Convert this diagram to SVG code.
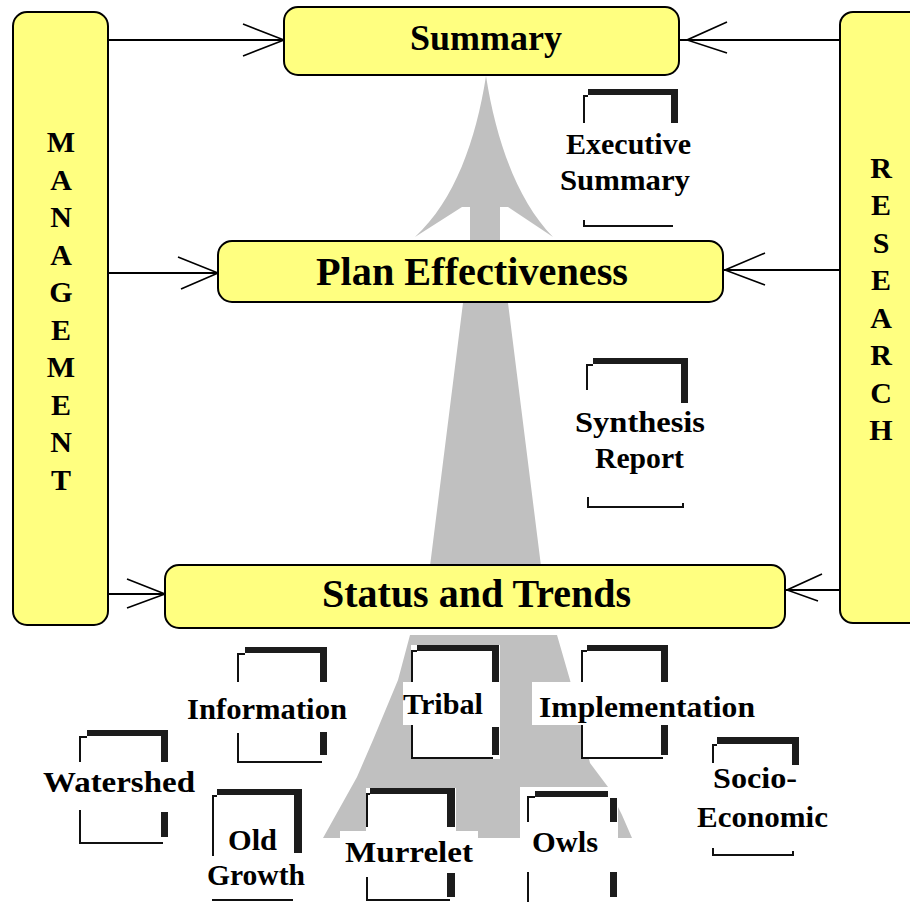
<svg xmlns="http://www.w3.org/2000/svg" width="910" height="902" viewBox="0 0 910 902">
<style>
.box{fill:#ffff80;stroke:#000;stroke-width:2}
.big{font-family:"Liberation Serif","Times New Roman",serif;font-weight:bold;fill:#000}
.lbl{font-family:"Liberation Serif","Times New Roman",serif;font-weight:bold;font-size:30px;fill:#000}
.side{font-family:"Liberation Serif","Times New Roman",serif;font-weight:bold;font-size:30px;fill:#000;text-anchor:middle}
.thin{stroke:#111;stroke-width:2;fill:none}
.thick{fill:#1c1c1c}
.wbg{fill:#fff}
.conn{stroke:#000;stroke-width:2;fill:none}
.head{stroke:#000;stroke-width:1.6;fill:none}
.grey{fill:#c0c0c0}
</style>
<rect width="910" height="902" fill="#fff"/>
<g id="flow-arrow">
<path class="grey" d="M486,76 C476,140 455,200 415,237 L462,207 L470,207 L470,260 L463,303 L430,566 L541,566 L508,303 L500,260 L500,207 L508,207 L553,237 C517,200 496,140 486,76 Z"/>
<path class="grey" d="M410,635 L557,635 L570,680 L590,763 L608,787 L622,815 L632,838 L323,838 L357,777 L373,740 L398,680 Z"/>
</g>
<g id="connectors">
<line class="conn" x1="108" y1="40" x2="284" y2="40"/>
<polyline class="head" points="243,24 284,40 243,56"/>
<line class="conn" x1="108" y1="273" x2="218" y2="273"/>
<polyline class="head" points="178,257 218,273 181,289"/>
<line class="conn" x1="108" y1="594" x2="165" y2="594"/>
<polyline class="head" points="127,579 165,594 127,608"/>
<line class="conn" x1="840" y1="40" x2="680" y2="40"/>
<polyline class="head" points="727,22 687,40 727,53"/>
<line class="conn" x1="840" y1="270" x2="723" y2="270"/>
<polyline class="head" points="765,253 725,270 765,285"/>
<line class="conn" x1="840" y1="590" x2="785" y2="590"/>
<polyline class="head" points="822,574 787,590 818,601"/>
</g>
<g id="management">
<rect class="box" x="13" y="12" width="95" height="613" rx="14"/>
<text class="side" x="61" y="152">M</text>
<text class="side" x="61" y="189.5">A</text>
<text class="side" x="61" y="227">N</text>
<text class="side" x="61" y="264.5">A</text>
<text class="side" x="61" y="302">G</text>
<text class="side" x="61" y="339.5">E</text>
<text class="side" x="61" y="377">M</text>
<text class="side" x="61" y="414.5">E</text>
<text class="side" x="61" y="452">N</text>
<text class="side" x="61" y="489.5">T</text>
</g>
<g id="research">
<rect class="box" x="840" y="12" width="90" height="611" rx="13"/>
<text class="side" x="881" y="177.5">R</text>
<text class="side" x="881" y="215">E</text>
<text class="side" x="881" y="252.5">S</text>
<text class="side" x="881" y="290">E</text>
<text class="side" x="881" y="327.5">A</text>
<text class="side" x="881" y="365">R</text>
<text class="side" x="881" y="402.5">C</text>
<text class="side" x="881" y="440">H</text>
</g>
<g id="summary">
<rect class="box" x="284" y="7" width="395" height="68" rx="14"/>
<text class="big" x="410" y="50" font-size="36" textLength="152" lengthAdjust="spacingAndGlyphs">Summary</text>
</g>
<g id="plan-effectiveness">
<rect class="box" x="218" y="241" width="505" height="61" rx="14"/>
<text class="big" x="316" y="285" font-size="39" textLength="312" lengthAdjust="spacingAndGlyphs">Plan Effectiveness</text>
</g>
<g id="status-and-trends">
<rect class="box" x="165" y="565" width="620" height="63" rx="14"/>
<text class="big" x="322" y="607" font-size="39" textLength="309" lengthAdjust="spacingAndGlyphs">Status and Trends</text>
</g>
<g id="executive-summary">
<rect class="thick" x="588" y="89" width="90" height="6"/>
<rect class="thick" x="671" y="89" width="7" height="34"/>
<path class="thin" d="M584,123 V96 H588 M584,220 V226 H673"/>
<text class="lbl" x="566" y="154" textLength="125" lengthAdjust="spacingAndGlyphs">Executive</text>
<text class="lbl" x="560" y="190" textLength="130" lengthAdjust="spacingAndGlyphs">Summary</text>
</g>
<g id="synthesis-report">
<rect class="thick" x="593" y="358" width="95" height="6"/>
<rect class="thick" x="681" y="358" width="7" height="45"/>
<path class="thin" d="M587,390 V365 H593 M588,497 V507 H683 V503"/>
<text class="lbl" x="575" y="432" textLength="130" lengthAdjust="spacingAndGlyphs">Synthesis</text>
<text class="lbl" x="595" y="468" textLength="89" lengthAdjust="spacingAndGlyphs">Report</text>
</g>
<g id="information">
<rect class="thick" x="245" y="647" width="82" height="6"/>
<rect class="thick" x="320" y="647" width="7" height="35"/>
<rect class="thick" x="320" y="732" width="7" height="23"/>
<path class="thin" d="M238,682 V654 H245 M238,733 V762 H322"/>
<text class="lbl" x="187" y="719" textLength="160" lengthAdjust="spacingAndGlyphs">Information</text>
</g>
<g id="watershed">
<rect class="thick" x="87" y="730" width="75" height="6"/>
<rect class="thick" x="161" y="730" width="7" height="32"/>
<rect class="thick" x="161" y="812" width="7" height="25"/>
<path class="thin" d="M80,762 V737 H87 M80,810 V843 H163"/>
<text class="lbl" x="43" y="792" textLength="152" lengthAdjust="spacingAndGlyphs">Watershed</text>
</g>
<g id="old-growth">
<rect class="thick" x="217" y="789" width="85" height="6"/>
<rect class="thick" x="294" y="789" width="8" height="64"/>
<path class="thin" d="M213,856 V796 H217 M212,900 H293"/>
<text class="lbl" x="228" y="850" textLength="49" lengthAdjust="spacingAndGlyphs">Old</text>
<text class="lbl" x="207" y="885" textLength="98" lengthAdjust="spacingAndGlyphs">Growth</text>
</g>
<g id="tribal">
<rect class="wbg" x="411" y="645" width="89" height="114"/>
<rect class="wbg" x="403" y="682" width="97" height="43"/>
<rect class="thick" x="417" y="645" width="82" height="6"/>
<rect class="thick" x="492" y="645" width="7" height="37"/>
<rect class="thick" x="492" y="727" width="7" height="28"/>
<path class="thin" d="M412,682 V651 H417 M412,725 V758 H493"/>
<text class="lbl" x="403" y="714" textLength="80" lengthAdjust="spacingAndGlyphs">Tribal</text>
</g>
<g id="implementation">
<rect class="wbg" x="581" y="645" width="88" height="114"/>
<rect class="wbg" x="532" y="682" width="230" height="43"/>
<rect class="thick" x="587" y="645" width="81" height="6"/>
<rect class="thick" x="661" y="645" width="7" height="37"/>
<rect class="thick" x="661" y="725" width="7" height="30"/>
<path class="thin" d="M582,682 V651 H587 M582,725 V758 H663"/>
<text class="lbl" x="539" y="717" textLength="216" lengthAdjust="spacingAndGlyphs">Implementation</text>
</g>
<g id="murrelet">
<rect class="wbg" x="366" y="788" width="90" height="114"/>
<rect class="wbg" x="340" y="831" width="138" height="41"/>
<rect class="thick" x="370" y="788" width="85" height="6"/>
<rect class="thick" x="447" y="788" width="8" height="39"/>
<rect class="thick" x="447" y="873" width="8" height="24"/>
<path class="thin" d="M367,827 V794 H370 M367,877 V900 H450"/>
<text class="lbl" x="345" y="862" textLength="128" lengthAdjust="spacingAndGlyphs">Murrelet</text>
</g>
<g id="owls">
<rect class="wbg" x="520" y="787" width="98" height="115"/>
<rect class="thick" x="535" y="791" width="73" height="6"/>
<rect class="thick" x="610" y="798" width="7" height="24"/>
<rect class="thick" x="610" y="872" width="7" height="25"/>
<path class="thin" d="M528,822 V797 H535 M528,872 V902"/>
<text class="lbl" x="532" y="852" textLength="66" lengthAdjust="spacingAndGlyphs">Owls</text>
</g>
<g id="socio-economic">
<rect class="thick" x="717" y="737" width="82" height="7"/>
<rect class="thick" x="792" y="737" width="7" height="28"/>
<path class="thin" d="M713,763 V745 H717 M713,848 V855 H793 V851"/>
<text class="lbl" x="713" y="788" textLength="84" lengthAdjust="spacingAndGlyphs">Socio-</text>
<text class="lbl" x="697" y="827" textLength="131" lengthAdjust="spacingAndGlyphs">Economic</text>
</g>
</svg>
